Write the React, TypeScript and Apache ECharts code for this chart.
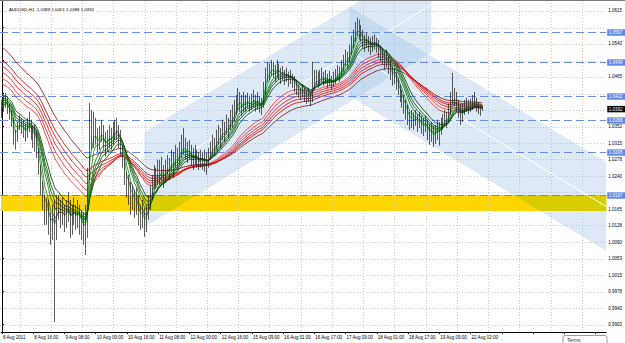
import React, { useEffect, useRef } from "react";
import * as echarts from "echarts";

// ---------- data (prices in pips above 1.0000) ----------
const timeLabels = [
  "8 Aug 2011", "8 Aug 16:00", "9 Aug 08:00", "10 Aug 00:00", "10 Aug 16:00", "11 Aug 08:00",
  "12 Aug 00:00", "12 Aug 16:00", "15 Aug 09:00", "16 Aug 01:00", "16 Aug 17:00", "17 Aug 09:00",
  "18 Aug 01:00", "18 Aug 17:00", "19 Aug 09:00", "22 Aug 02:00",
];
const barsPerLabel = 16;
const slotCount = 310;

const firstOpen = 395;
const closes = [
  390, 404, 413, 395, 381, 368, 334, 322, 349, 363, 356, 345, 336, 349, 363, 345, 327, 334, 300, 259,
  220, 186, 152, 175, 141, 118, 152, 118, 163, 175, 152, 163, 141, 159, 175, 136, 152, 163, 145, 159,
  141, 129, 118, 141, 243, 368, 322, 356, 334, 311, 327, 345, 322, 304, 318, 334, 322, 340, 345, 349,
  327, 311, 277, 243, 209, 220, 186, 197, 175, 186, 152, 141, 159, 129, 152, 175, 197, 220, 243, 231,
  254, 243, 259, 236, 250, 265, 254, 277, 265, 288, 277, 295, 304, 311, 300, 288, 300, 281, 272, 288,
  277, 265, 281, 272, 277, 265, 281, 300, 311, 304, 322, 334, 327, 345, 338, 356, 349, 368, 372, 386,
  402, 418, 408, 395, 413, 404, 413, 399, 408, 418, 404, 413, 399, 395, 436, 470, 481, 477, 490, 481,
  472, 486, 477, 467, 477, 463, 472, 458, 467, 454, 447, 440, 431, 424, 436, 422, 418, 424, 413, 447,
  458, 463, 454, 463, 470, 458, 465, 454, 463, 449, 458, 467, 477, 472, 486, 499, 508, 504, 522, 538,
  554, 572, 581, 567, 561, 549, 538, 549, 540, 531, 538, 545, 536, 527, 515, 508, 499, 504, 490, 477,
  463, 470, 454, 440, 424, 413, 399, 386, 372, 363, 372, 363, 372, 359, 368, 354, 349, 359, 345, 334,
  340, 327, 336, 349, 340, 354, 363, 372, 368, 386, 413, 424, 418, 404, 390, 372, 386, 399, 404, 395,
  402, 408, 413, 399, 395, 389, 392,
];
const highs = [
  413, 422, 429, 418, 404, 390, 372, 345, 363, 379, 372, 368, 359, 372, 386, 368, 354, 356, 340, 304,
  265, 227, 197, 191, 186, 159, 175, 186, 197, 197, 186, 191, 175, 186, 204, 186, 175, 191, 175, 186,
  175, 163, 159, 175, 259, 406, 390, 386, 372, 349, 354, 368, 356, 340, 345, 356, 349, 363, 368, 372,
  356, 345, 311, 281, 250, 243, 227, 220, 209, 213, 197, 175, 186, 168, 175, 197, 220, 243, 265, 259,
  277, 277, 284, 265, 277, 288, 281, 300, 295, 311, 304, 318, 334, 349, 327, 318, 322, 311, 304, 311,
  300, 295, 300, 295, 300, 293, 304, 318, 334, 327, 345, 356, 349, 368, 363, 379, 372, 390, 402, 413,
  424, 440, 431, 424, 431, 424, 429, 422, 427, 436, 424, 431, 422, 418, 454, 486, 499, 495, 504, 499,
  492, 504, 495, 486, 490, 481, 486, 477, 481, 472, 467, 458, 447, 440, 447, 440, 436, 440, 431, 499,
  481, 481, 477, 481, 486, 477, 481, 472, 479, 467, 477, 483, 492, 488, 504, 515, 527, 522, 538, 558,
  572, 590, 599, 595, 583, 572, 561, 565, 558, 554, 558, 561, 554, 549, 536, 531, 522, 527, 513, 504,
  490, 486, 477, 463, 447, 436, 424, 413, 402, 386, 390, 386, 390, 381, 386, 377, 372, 377, 368, 359,
  363, 354, 356, 368, 363, 372, 381, 390, 386, 404, 431, 474, 440, 431, 413, 404, 404, 413, 418, 413,
  415, 424, 431, 418, 408, 402, 401,
];
const lows = [
  372, 386, 395, 381, 368, 352, 311, 300, 318, 345, 336, 327, 318, 327, 340, 322, 304, 295, 281, 243,
  197, 163, 129, 129, 107, 84, 95, -91, 95, 141, 122, 129, 113, 122, 136, 100, 107, 129, 118, 122,
  107, 95, 84, 61, 100, 231, 300, 304, 311, 295, 300, 318, 300, 284, 295, 304, 300, 311, 322, 322,
  304, 288, 259, 220, 191, 175, 152, 163, 145, 152, 129, 118, 122, 102, 113, 141, 163, 186, 209, 213,
  220, 220, 231, 213, 225, 243, 231, 250, 236, 259, 254, 265, 281, 288, 277, 270, 277, 263, 254, 265,
  259, 254, 259, 254, 250, 243, 259, 277, 288, 286, 300, 311, 304, 322, 318, 334, 327, 345, 349, 363,
  379, 390, 386, 377, 386, 386, 395, 386, 390, 395, 386, 390, 384, 379, 395, 424, 454, 458, 467, 463,
  454, 463, 458, 449, 458, 447, 454, 443, 449, 440, 431, 424, 418, 413, 418, 408, 404, 408, 399, 408,
  436, 445, 440, 447, 454, 445, 449, 440, 445, 436, 443, 449, 458, 454, 467, 477, 490, 486, 499, 515,
  531, 545, 558, 549, 545, 531, 522, 531, 522, 515, 522, 527, 520, 508, 499, 492, 481, 486, 472, 458,
  445, 449, 436, 424, 408, 395, 381, 368, 356, 345, 349, 345, 354, 340, 349, 336, 331, 340, 322, 311,
  318, 306, 313, 322, 309, 334, 345, 354, 349, 363, 379, 402, 399, 386, 372, 356, 363, 379, 386, 381,
  386, 390, 395, 386, 381, 377, 388,
];

// GMMA: short (green) and long (red) exponential averages, with values at the left edge
const greenPeriods = [3, 5, 8, 10, 12, 15];
const greenSeeds = [400, 405, 412, 418, 423, 430];
const redPeriods = [30, 35, 40, 45, 50, 60];
const redSeeds = [454, 467, 481, 495, 508, 538];

const levelPrices = [1.0567, 1.0499, 1.0422, 1.0368, 1.0295, 1.0197];
const zonePrices = [1.0161, 1.0197];
// channels: [startBar, upperPips, lowerPips, endBar, upperPips, lowerPips]
const risingChannel = [73, 340, 125, 220, 737, 521];
const fallingChannel = [178, 624, 422, 309.5, 272, 70];

const yTicks = [
  0.9903, 0.994, 0.9978, 1.0015, 1.0053, 1.009, 1.0128, 1.0165, 1.0203, 1.024,
  1.0278, 1.0315, 1.0352, 1.039, 1.0427, 1.0465, 1.0502, 1.054, 1.0577, 1.0615,
];
const vGridBars = [9, 25, 41, 57, 73, 89, 105, 121, 137, 153, 169, 185, 201, 217, 233, 249, 265, 281, 297];
const yMin = 0.98864;
const yMax = 1.06395;

// ---------- helpers ----------
const toPrice = (p: number) => 1 + p / 10000;

function ema(values: number[], period: number, seed: number) {
  const a = 2 / (period + 1);
  let e = seed;
  return values.map((v) => (e = a * v + (1 - a) * e));
}

function clipPoly(pts: number[][], y0: number, y1: number) {
  const clip = (poly: number[][], inside: (y: number) => boolean, yb: number) => {
    const out: number[][] = [];
    for (let k = 0; k < poly.length; k++) {
      const a = poly[k];
      const b = poly[(k + 1) % poly.length];
      const ia = inside(a[1]);
      const ib = inside(b[1]);
      if (ia) out.push(a);
      if (ia !== ib) {
        const t = (yb - a[1]) / (b[1] - a[1]);
        out.push([a[0] + t * (b[0] - a[0]), yb]);
      }
    }
    return out;
  };
  let r = clip(pts, (y) => y >= y0, y0);
  r = clip(r, (y) => y <= y1, y1);
  return r;
}

const FONT = "'Liberation Sans', Arial, sans-serif";
const LEVEL_BLUE = "#6a8ee8";

function priceTag(x: number, y: number, text: string, bg: string) {
  return [
    { type: "rect", shape: { x: x, y: y - 3.2, width: 20, height: 6.4 }, style: { fill: bg } },
    {
      type: "text",
      x: x + 1.5,
      y: y,
      style: { text, fill: "#ffffff", fontSize: 4.5, fontFamily: FONT, verticalAlign: "middle", align: "left" },
    },
  ];
}

export default function App() {
  const ref = useRef<HTMLDivElement>(null);

  useEffect(() => {
    document.body.style.margin = "0";
    if (!ref.current) return;
    const chart = echarts.init(ref.current, undefined, { renderer: "svg" });

    const lastPrice = toPrice(closes[closes.length - 1]);
    // the price tags on the right cover the scale labels that sit under them
    const taggedPrices = [...levelPrices, lastPrice];
    const labelTicks = yTicks.filter((t) => !taggedPrices.some((p) => Math.abs(p - t) < 0.0013));

    const categories = Array.from({ length: slotCount }, (_, i) => String(i));
    const candleData = closes.map((c, i) => {
      const o = i === 0 ? firstOpen : closes[i - 1];
      const h = Math.max(highs[i], o, c);
      const l = Math.min(lows[i], o, c);
      return [toPrice(o), toPrice(c), toPrice(l), toPrice(h)];
    });

    const greenColors = ["#3aa83a", "#2b922b", "#217d21", "#1b6d1b", "#155e15", "#0f500f"];
    const redColors = ["#ff3535", "#f82828", "#ee1e1e", "#e31414", "#d70c0c", "#8e2222"];

    const emaSeries: any[] = [];
    redPeriods.forEach((p, k) => {
      emaSeries.push({
        type: "line",
        name: "EMA" + p,
        xAxisIndex: 0,
        data: ema(closes, p, redSeeds[k]).map(toPrice),
        symbol: "none",
        silent: true,
        z: 5,
        lineStyle: { width: 0.9, color: redColors[k] },
      });
    });
    greenPeriods.forEach((p, k) => {
      emaSeries.push({
        type: "line",
        name: "EMA" + p,
        xAxisIndex: 0,
        data: ema(closes, p, greenSeeds[k]).map(toPrice),
        symbol: "none",
        silent: true,
        z: 5,
        lineStyle: { width: 0.9, color: greenColors[k] },
      });
    });

    const option: any = {
      animation: false,
      backgroundColor: "#ffffff",
      textStyle: { fontFamily: FONT },
      title: {
        text: "AUDUSD,H1  1.0389 1.0401 1.0388 1.0392",
        left: 4,
        top: 2.5,
        textStyle: { fontSize: 4.4, fontWeight: "normal", color: "#000", fontFamily: FONT },
      },
      grid: { left: -3, top: 0, width: 613, height: 332, containLabel: false },
      xAxis: [
        {
          type: "category",
          data: categories,
          boundaryGap: true,
          axisLine: { show: true, lineStyle: { color: "#000", width: 1 } },
          axisTick: {
            show: true,
            interval: (i: number) => i % barsPerLabel === 0,
            alignWithLabel: true,
            length: 2,
            lineStyle: { color: "#000" },
          },
          axisLabel: {
            interval: (i: number) => i % barsPerLabel === 0,
            formatter: (_v: string, i: number) => timeLabels[i / barsPerLabel] ?? "",
            align: "left",
            margin: 3,
            padding: [0, 0, 0, 1],
            fontSize: 4.5,
            color: "#000",
            fontFamily: FONT,
          },
          splitLine: { show: false },
        },
        { type: "value", min: -0.5, max: slotCount - 0.5, show: false, splitLine: { show: false } },
      ],
      yAxis: {
        type: "value",
        position: "right",
        min: yMin,
        max: yMax,
        axisLine: { show: true, lineStyle: { color: "#000", width: 1 } },
        axisTick: { show: true, customValues: yTicks, length: 2, lineStyle: { color: "#000" } },
        axisLabel: {
          customValues: labelTicks,
          formatter: (v: number) => v.toFixed(4),
          fontSize: 4.5,
          margin: 2,
          color: "#000",
          fontFamily: FONT,
        },
        splitLine: { show: false },
        minorSplitLine: { show: false },
        splitArea: { show: false },
      },
      graphic: [
        { type: "rect", shape: { x: 0, y: 0, width: 625, height: 1 }, style: { fill: "#7a7a7a" }, z: 100 },
        {
          type: "rect",
          shape: { x: 563, y: 335.5, width: 44, height: 12, r: 2 },
          style: { fill: "#ffffff", stroke: "#9a9a9a", lineWidth: 1 },
          z: 100,
        },
        {
          type: "text",
          x: 567,
          y: 339.5,
          style: { text: "Terms", fontSize: 5, fill: "#333", fontFamily: FONT, verticalAlign: "middle" },
          z: 101,
        },
      ],
      series: [
        {
          type: "custom",
          name: "hgrid",
          xAxisIndex: 1,
          silent: true,
          z: 1,
          data: yTicks.map((v) => [0, v]),
          renderItem: (params: any, api: any) => {
            const cs = params.coordSys;
            const y = Math.round(api.coord([0, api.value(1)])[1]) + 0.5;
            return {
              type: "line",
              shape: { x1: 0, y1: y, x2: cs.x + cs.width, y2: y },
              style: { stroke: "#c9c9c9", lineWidth: 1, lineDash: [1, 2] },
            };
          },
        },
        {
          type: "custom",
          name: "vgrid",
          xAxisIndex: 1,
          silent: true,
          z: 1,
          data: vGridBars.map((b) => [b, yMin]),
          renderItem: (params: any, api: any) => {
            const cs = params.coordSys;
            const x = Math.round(api.coord([api.value(0), yMin])[0]) + 0.5;
            return {
              type: "line",
              shape: { x1: x, y1: cs.y, x2: x, y2: cs.y + cs.height },
              style: { stroke: "#c9c9c9", lineWidth: 1, lineDash: [1, 2] },
            };
          },
        },
        {
          type: "line",
          name: "zone",
          xAxisIndex: 1,
          data: [],
          silent: true,
          z: 2,
          markArea: {
            silent: true,
            itemStyle: { color: "#ffd500" },
            data: [[{ yAxis: zonePrices[1] }, { yAxis: zonePrices[0] }]],
          },
        },
        {
          type: "custom",
          name: "channels",
          xAxisIndex: 1,
          yAxisIndex: 0,
          silent: true,
          z: 3,
          data: [risingChannel, fallingChannel],
          renderItem: (_params: any, api: any) => {
            const i0 = api.value(0);
            const t0 = api.value(1);
            const b0 = api.value(2);
            const i1 = api.value(3);
            const t1 = api.value(4);
            const b1 = api.value(5);
            const P = (i: number, p: number) => api.coord([i, toPrice(p)]);
            const poly = [P(i0, t0), P(i1, t1), P(i1, b1), P(i0, b0)];
            const ma = P(i0, (t0 + b0) / 2);
            const mb = P(i1, (t1 + b1) / 2);
            const zTop = api.coord([0, zonePrices[1]])[1];
            const zBot = api.coord([0, zonePrices[0]])[1];
            const overlap = clipPoly(poly, zTop, zBot);
            const children: any[] = [
              { type: "polygon", shape: { points: poly }, style: { fill: "rgba(150,190,228,0.32)" } },
            ];
            if (overlap.length > 2) {
              children.push({ type: "polygon", shape: { points: overlap }, style: { fill: "#d9cd00" } });
            }
            children.push({
              type: "line",
              shape: { x1: ma[0], y1: ma[1], x2: mb[0], y2: mb[1] },
              style: { stroke: "#ffffff", lineWidth: 1 },
            });
            return { type: "group", children };
          },
        },
        {
          type: "custom",
          name: "levels",
          xAxisIndex: 1,
          silent: true,
          z: 4,
          data: levelPrices.map((v) => [0, v]),
          renderItem: (params: any, api: any) => {
            const cs = params.coordSys;
            const v = api.value(1);
            const y = Math.round(api.coord([0, v])[1]) + 0.5;
            const right = cs.x + cs.width;
            return {
              type: "group",
              children: [
                {
                  type: "line",
                  shape: { x1: 0, y1: y, x2: right, y2: y },
                  style: { stroke: LEVEL_BLUE, lineWidth: 1, lineDash: [8, 4] },
                },
                ...priceTag(right + 1, y, v.toFixed(4), "#5f86e6"),
              ],
            };
          },
        },
        ...emaSeries,
        {
          type: "candlestick",
          name: "AUDUSD",
          xAxisIndex: 0,
          data: candleData,
          barWidth: 1,
          silent: true,
          z: 6,
          itemStyle: {
            color: "#1a1a1a",
            color0: "#1a1a1a",
            borderColor: "#1a1a1a",
            borderColor0: "#1a1a1a",
            borderWidth: 0.7,
          },
        },
        {
          type: "custom",
          name: "bid",
          xAxisIndex: 1,
          silent: true,
          z: 7,
          data: [[0, lastPrice]],
          renderItem: (params: any, api: any) => {
            const cs = params.coordSys;
            const v = api.value(1);
            const y = api.coord([0, v])[1];
            return { type: "group", children: priceTag(cs.x + cs.width + 1, y, v.toFixed(4), "#000000") };
          },
        },
      ],
    };

    chart.setOption(option);
    return () => chart.dispose();
  }, []);

  return <div ref={ref} style={{ width: 625, height: 343 }} />;
}
